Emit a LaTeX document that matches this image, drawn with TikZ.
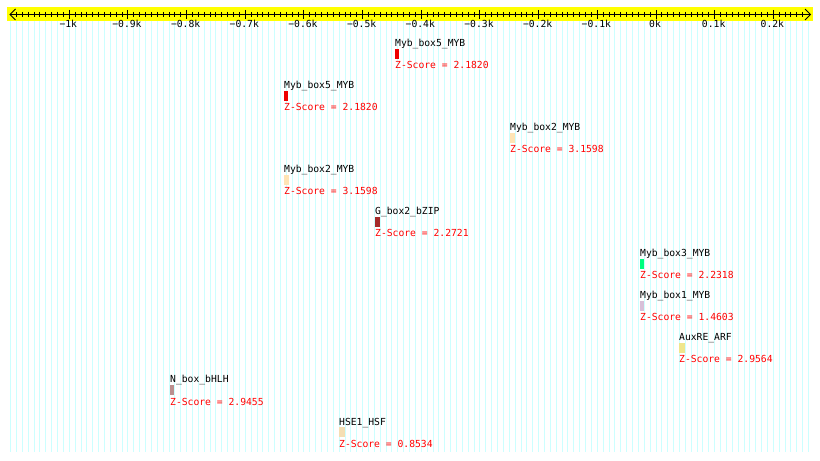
\documentclass[tikz,border=0pt]{standalone}
\usepackage{fontspec}
\newfontfamily\pix{DejaVu Sans Mono}
\definecolor{gridc}{HTML}{CCFFFF}
\definecolor{bandc}{HTML}{FFFF00}
\definecolor{zred}{HTML}{FF0000}
\definecolor{cmyb5}{HTML}{EE0000}
\definecolor{cmyb2}{HTML}{FFE4B5}
\definecolor{cgbox}{HTML}{A52A2A}
\definecolor{cmyb3}{HTML}{00FF7F}
\definecolor{cmyb1}{HTML}{D8BFD8}
\definecolor{caux}{HTML}{F0E68C}
\definecolor{cnbox}{HTML}{BC8F8F}
\definecolor{chse}{HTML}{F5DEB3}
\tikzset{
  txt/.style={inner sep=0pt, font=\pix\fontsize{9.7bp}{11bp}\selectfont},
  namelab/.style={txt, anchor=base west, text=black},
  zlab/.style={txt, anchor=base west, text=zred},
  ticklab/.style={txt, anchor=base, text=black},
  gridline/.style={draw=gridc, line width=1bp},
  axisline/.style={draw=black, line width=1bp},
}
\begin{document}
\begin{tikzpicture}[x=1bp,y=-1bp]
\useasboundingbox (0,0) rectangle (820,461);
\fill[white] (0,0) rectangle (820,461);
% grid
\foreach \v in {-110,...,26}{
  \pgfmathsetmacro{\gx}{floor(656+\v*5.867)+0.5}
  \draw[gridline] (\gx,21) -- (\gx,452);
}
% band
\fill[bandc] (7,7) rectangle (813,21);
% axis
\coordinate (axL) at (10,14.5);
\coordinate (axR) at (810.5,14.5);
\draw[axisline] (axL) -- (axR);
\draw[axisline] (15.5,9) -- (axL) -- (15.5,20);
\draw[axisline] (805,9) -- (axR) -- (805,20);
\foreach \v in {-109,...,25}{
  \pgfmathsetmacro{\tx}{floor(656+\v*5.867)+0.5}
  \pgfmathtruncatemacro{\m}{mod(abs(\v),10)}
  \ifnum\m=0
    \draw[axisline] (\tx,10) -- (\tx,19);
  \else
    \draw[axisline] (\tx,12) -- (\tx,17);
  \fi
}
\foreach \v/\t [count=\i] in {-10/{−1k},-9/{−0.9k},-8/{−0.8k},-7/{−0.7k},-6/{−0.6k},-5/{−0.5k},-4/{−0.4k},-3/{−0.3k},-2/{−0.2k},-1/{−0.1k},0/{0k},1/{0.1k},2/{0.2k}}
  \node[ticklab] (tick\i) at ({656+\v*58.67-1},27.3) {\t};
% features
\foreach \x/\nm/\col/\w/\z [count=\i from 0] in {
  395/{Myb\_box5\_MYB}/cmyb5/4/2.1820,
  284/{Myb\_box5\_MYB}/cmyb5/4/2.1820,
  510/{Myb\_box2\_MYB}/cmyb2/5/3.1598,
  284/{Myb\_box2\_MYB}/cmyb2/5/3.1598,
  375/{G\_box2\_bZIP}/cgbox/5/2.2721,
  640/{Myb\_box3\_MYB}/cmyb3/4/2.2318,
  640/{Myb\_box1\_MYB}/cmyb1/4/1.4603,
  679/{AuxRE\_ARF}/caux/6/2.9564,
  170/{N\_box\_bHLH}/cnbox/4/2.9455,
  339/{HSE1\_HSF}/chse/6/0.8534}{
  \node[namelab] (name\i) at (\x,{47+42*\i}) {\nm};
  \fill[\col] (\x,{49+42*\i}) rectangle ({\x+\w},{59+42*\i});
  \node[zlab] (z\i) at (\x,{69+42*\i}) {Z-Score = \z};
}
\end{tikzpicture}
\end{document}
